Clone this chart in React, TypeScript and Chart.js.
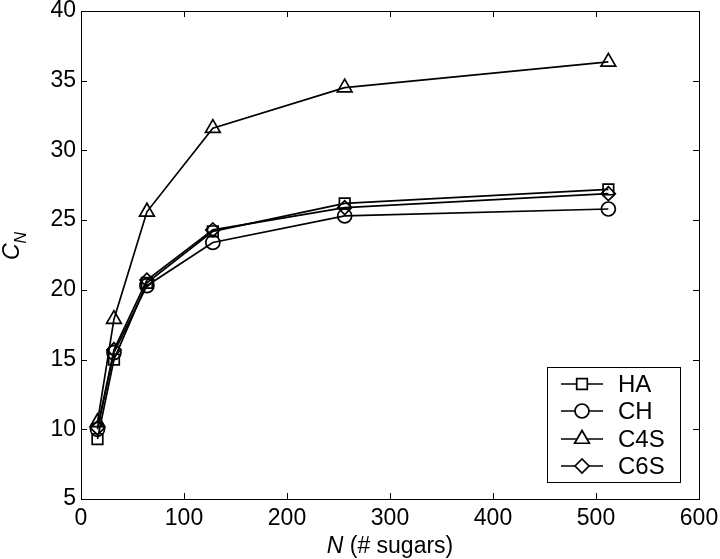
import React, { useEffect, useRef } from "react";
import { Chart, registerables } from "chart.js";
import { drawPoint } from "chart.js/helpers";

Chart.register(...registerables);

const N_VALUES = [16, 32, 64, 128, 256, 512];
const HA = [9.3, 15.0, 20.5, 24.2, 26.2, 27.2];
const CH = [10.0, 15.5, 20.3, 23.4, 25.3, 25.8];
const C4S = [10.5, 17.9, 25.6, 31.6, 34.5, 36.35];
const C6S = [10.1, 15.7, 20.7, 24.3, 25.9, 26.9];
const SERIES_NAMES = ["HA", "CH", "C4S", "C6S"];
const X_TICKS = [0, 100, 200, 300, 400, 500, 600];
const Y_TICKS = [5, 10, 15, 20, 25, 30, 35, 40];

const FONT = "'Liberation Sans', Arial, sans-serif";
const STYLES = [
  { pointStyle: "rect", radius: 7.5 },
  { pointStyle: "circle", radius: 7 },
  { pointStyle: "triangle", radius: 8.5 },
  { pointStyle: "rectRot", radius: 7 },
];

const framePlugin = {
  id: "frame",
  afterDraw(chart: any) {
    const { ctx, chartArea } = chart;
    const { left, right, top, bottom } = chartArea;
    const xs = chart.scales.x;
    const ys = chart.scales.y;
    ctx.save();
    ctx.strokeStyle = "#000";
    ctx.lineWidth = 1;
    ctx.strokeRect(left + 0.5, top + 0.5, right - left, bottom - top);
    const tl = 6;
    ctx.beginPath();
    X_TICKS.forEach((v) => {
      const px = Math.round(xs.getPixelForValue(v)) + 0.5;
      ctx.moveTo(px, bottom);
      ctx.lineTo(px, bottom - tl);
      ctx.moveTo(px, top);
      ctx.lineTo(px, top + tl);
    });
    Y_TICKS.forEach((v) => {
      const py = Math.round(ys.getPixelForValue(v)) + 0.5;
      ctx.moveTo(left, py);
      ctx.lineTo(left + tl, py);
      ctx.moveTo(right, py);
      ctx.lineTo(right - tl, py);
    });
    ctx.stroke();

    // Legend
    const bx = 547, by = 367, bw = 133, bh = 115;
    ctx.fillStyle = "#fff";
    ctx.fillRect(bx, by, bw, bh);
    ctx.strokeRect(bx + 0.5, by + 0.5, bw, bh);
    const rows = [384, 411, 439, 466];
    ctx.font = `24px ${FONT}`;
    ctx.textBaseline = "middle";
    ctx.textAlign = "left";
    SERIES_NAMES.forEach((name, i) => {
      const y = rows[i];
      ctx.strokeStyle = "#000";
      ctx.lineWidth = 1.7;
      ctx.beginPath();
      ctx.moveTo(561, y);
      ctx.lineTo(603, y);
      ctx.stroke();
      ctx.fillStyle = "#fff";
      drawPoint(ctx, { pointStyle: STYLES[i].pointStyle, radius: STYLES[i].radius, borderWidth: 1.7, rotation: 0 } as any, 582, y);
      ctx.fillStyle = "#000";
      ctx.fillText(name, 618, y + 1);
    });

    // Axis titles
    ctx.fillStyle = "#000";
    ctx.textBaseline = "alphabetic";
    const cx = (left + right) / 2;
    ctx.font = `italic 23px ${FONT}`;
    const nW = ctx.measureText("N").width;
    ctx.font = `23px ${FONT}`;
    const restW = ctx.measureText(" (# sugars)").width;
    const startX = cx - (nW + restW) / 2;
    ctx.font = `italic 23px ${FONT}`;
    ctx.fillText("N", startX, 553);
    ctx.font = `23px ${FONT}`;
    ctx.fillText(" (# sugars)", startX + nW, 553);

    ctx.translate(19, 246);
    ctx.rotate(-Math.PI / 2);
    ctx.font = `italic 23px ${FONT}`;
    const cW = ctx.measureText("C").width;
    ctx.font = `italic 16px ${FONT}`;
    const sW = ctx.measureText("N").width;
    const sx = -(cW + sW) / 2;
    ctx.font = `italic 23px ${FONT}`;
    ctx.fillText("C", sx, 0);
    ctx.font = `italic 16px ${FONT}`;
    ctx.fillText("N", sx + cW, 7);
    ctx.restore();
  },
};

const zeroPad = (s: any) => {
  s.paddingTop = 0;
  s.paddingBottom = 0;
  s.paddingLeft = 0;
  s.paddingRight = 0;
};

export default function App() {
  const ref = useRef<HTMLCanvasElement | null>(null);
  useEffect(() => {
    if (!ref.current) return;
    const seriesValues = [HA, CH, C4S, C6S];
    const chart = new Chart(ref.current, {
      type: "line",
      data: {
        datasets: seriesValues.map((vals, i) => ({
          label: SERIES_NAMES[i],
          data: N_VALUES.map((n, j) => ({ x: n, y: vals[j] })),
          borderColor: "#000",
          borderWidth: 1.7,
          backgroundColor: "rgba(0,0,0,0)",
          pointStyle: STYLES[i].pointStyle as any,
          pointRadius: STYLES[i].radius,
          pointBorderWidth: 1.7,
          pointBorderColor: "#000",
          pointBackgroundColor: "rgba(0,0,0,0)",
          tension: 0,
          fill: false,
        })),
      },
      options: {
        animation: false,
        responsive: true,
        maintainAspectRatio: false,
        layout: { padding: { top: 11, right: 21, left: 0, bottom: 0 } },
        plugins: { legend: { display: false }, tooltip: { enabled: false } },
        scales: {
          x: {
            type: "linear",
            min: 0,
            max: 600,
            afterFit: (s: any) => { s.height = 60; zeroPad(s); },
            afterBuildTicks: (s: any) => { s.ticks = X_TICKS.map((v) => ({ value: v })); },
            grid: { display: false, drawTicks: false },
            border: { display: false },
            ticks: { color: "#000", font: { size: 23, family: FONT }, padding: 6, maxRotation: 0, autoSkip: false },
          },
          y: {
            type: "linear",
            min: 5,
            max: 40,
            afterFit: (s: any) => { s.width = 81; zeroPad(s); },
            afterBuildTicks: (s: any) => { s.ticks = Y_TICKS.map((v) => ({ value: v })); },
            grid: { display: false, drawTicks: false },
            border: { display: false },
            ticks: { color: "#000", font: { size: 23, family: FONT }, padding: 5, autoSkip: false },
          },
        },
      },
      plugins: [framePlugin],
    });
    return () => chart.destroy();
  }, []);
  return (
    <div style={{ position: "absolute", left: 0, top: 0, width: 720, height: 559, background: "#fff" }}>
      <canvas ref={ref} />
    </div>
  );
}
